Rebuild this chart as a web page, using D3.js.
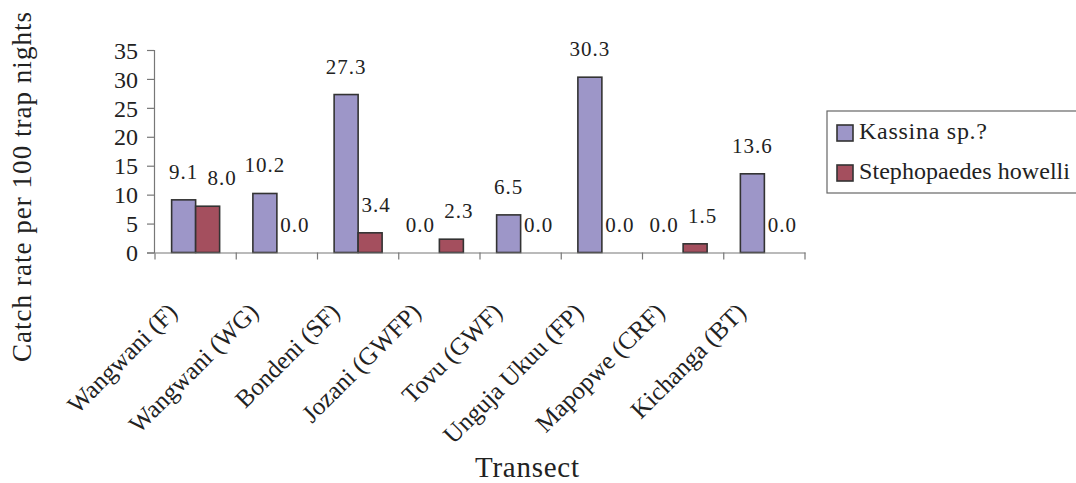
<!DOCTYPE html>
<html><head><meta charset="utf-8">
<script src="https://cdn.jsdelivr.net/npm/d3@7/dist/d3.min.js"></script>
<style>
html,body{margin:0;padding:0;background:#fff;}
svg{display:block;}
svg text{font-family:"Liberation Serif","Times New Roman",serif;}
</style></head>
<body>
<svg id="chart" width="1076" height="483"></svg>
<script>
const categories = ["Wangwani (F)","Wangwani (WG)","Bondeni (SF)","Jozani (GWFP)","Tovu (GWF)","Unguja Ukuu (FP)","Mapopwe (CRF)","Kichanga (BT)"];
const seriesNames = ["Kassina sp.?","Stephopaedes howelli"];
const kassina = [9.1,10.2,27.3,0.0,6.5,30.3,0.0,13.6];
const stephopaedes = [8.0,0.0,3.4,2.3,0.0,0.0,1.5,0.0];
const yTicks = [0,5,10,15,20,25,30,35];
const colors = ["#9d96c8","#a44f5e"];
const yTitle = "Catch rate per 100 trap nights";
const xTitle = "Transect";

const FONT = "Liberation Serif";
const svg = d3.select("#chart");
const values = [kassina, stephopaedes];

const x0 = d3.scaleBand().domain(categories).range([155,805]).padding(0);
const x1 = d3.scaleBand().domain(seriesNames).range([0,x0.bandwidth()]).paddingInner(0).paddingOuter(0.693);
const y = d3.scaleLinear().domain([0,35]).range([252.5,50]);

// bars
seriesNames.forEach((s,si)=>{
  svg.append("g").selectAll("rect").data(categories).join("rect")
    .attr("x",c=>x0(c)+x1(s))
    .attr("y",(c,i)=>y(values[si][i]))
    .attr("width",x1.bandwidth())
    .attr("height",(c,i)=>y(0)-y(values[si][i]))
    .attr("fill",colors[si])
    .attr("stroke",(c,i)=>values[si][i]>0?"#333":"none")
    .attr("stroke-width",1.6);
});

// y axis
const yAxis = d3.axisLeft(y).tickValues(yTicks).tickSize(7).tickPadding(9).tickFormat(d3.format("d"));
const gy = svg.append("g").attr("transform","translate(154,0)").call(yAxis);
gy.attr("font-family",FONT);
gy.select(".domain").attr("stroke","#777").attr("stroke-width",1.2);
gy.selectAll(".tick line").attr("stroke","#777").attr("stroke-width",1.2);
gy.selectAll(".tick text").attr("font-size",24).attr("font-family",FONT).attr("fill","#222").attr("dy","0.34em");

// x axis
const xAxis = d3.axisBottom(x0).tickSize(0).tickFormat("");
const gx = svg.append("g").attr("transform",`translate(0,${y(0)})`).call(xAxis);
gx.select(".domain").attr("stroke","#777").attr("stroke-width",1.2);
const bounds = categories.map(c=>x0(c)).concat([x0.range()[1]]);
gx.selectAll("line.bt").data(bounds).join("line").attr("class","bt")
  .attr("x1",d=>d).attr("x2",d=>d).attr("y1",0).attr("y2",7)
  .attr("stroke","#777").attr("stroke-width",1.2);

// category labels
svg.append("g").selectAll("text").data(categories).join("text")
  .attr("transform",c=>`translate(${x0(c)+x0.bandwidth()/2-17},${y(0)+61}) rotate(-45)`)
  .attr("text-anchor","end").attr("font-family",FONT)
  .attr("font-size",25).attr("fill","#222")
  .text(c=>c);

// data labels (red labels nudged right to avoid colliding with purple labels)
const fmt = d3.format(".1f");
const labelW = v => fmt(v).length*9.5;
const labels = [];
categories.forEach((c,i)=>{
  const v0 = values[0][i], v1 = values[1][i];
  let cx0 = x0(c)+x1(seriesNames[0])+x1.bandwidth()/2;
  let cx1 = x0(c)+x1(seriesNames[1])+x1.bandwidth()/2 + 6;
  if(v0===0) cx0 -= 7;
  const y0 = y(v0)-21, y1 = y(v1)-21;
  const overlapV = Math.abs(y0-y1) < 16;
  const minGap = labelW(v0)/2 + labelW(v1)/2 + 10;
  if(overlapV && cx1-cx0 < minGap) cx1 = cx0 + minGap;
  labels.push({x:cx0,y:y0,t:fmt(v0)});
  labels.push({x:cx1,y:y1,t:fmt(v1)});
});
svg.append("g").selectAll("text").data(labels).join("text")
  .attr("x",d=>d.x).attr("y",d=>d.y)
  .attr("text-anchor","middle").attr("font-family",FONT)
  .attr("font-size",21).attr("letter-spacing","1px").attr("fill","#222")
  .text(d=>d.t);

// axis titles
svg.append("text").attr("transform","translate(31,187) rotate(-90)")
  .attr("text-anchor","middle").attr("font-family",FONT).attr("font-size",27).attr("fill","#222")
  .attr("textLength",350).attr("lengthAdjust","spacing")
  .text(yTitle);
svg.append("text").attr("x",527).attr("y",477)
  .attr("text-anchor","middle").attr("font-family",FONT).attr("font-size",29).attr("fill","#222")
  .attr("textLength",104).attr("lengthAdjust","spacing")
  .text(xTitle);

// legend
const lg = svg.append("g");
lg.append("rect").attr("x",827).attr("y",111).attr("width",260).attr("height",82)
  .attr("fill","#fff").attr("stroke","#666").attr("stroke-width",1.2);
const lItems = lg.selectAll("g.li").data(seriesNames).join("g").attr("class","li")
  .attr("transform",(d,i)=>`translate(837,${125+i*40})`);
lItems.append("rect").attr("width",16).attr("height",16)
  .attr("fill",(d,i)=>colors[i]).attr("stroke","#333").attr("stroke-width",1.6);
lItems.append("text").attr("x",22).attr("y",14).attr("font-family",FONT).attr("font-size",24).attr("fill","#222")
  .attr("textLength",(d,i)=>i===0?128:211).attr("lengthAdjust","spacing")
  .text(d=>d);
</script>
</body></html>
